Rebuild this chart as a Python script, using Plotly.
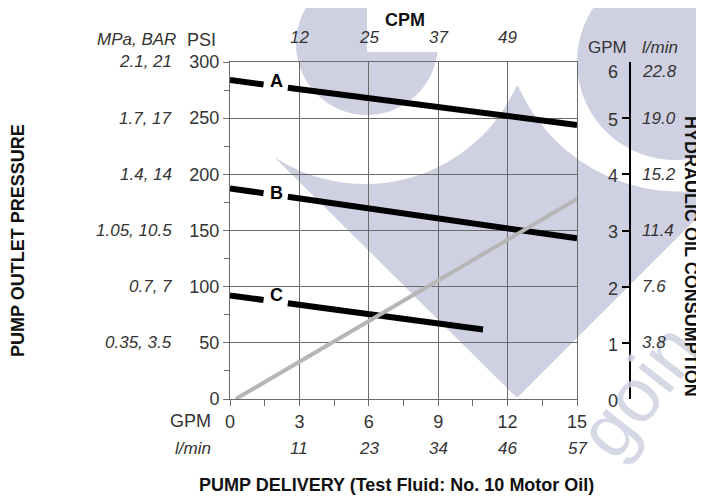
import math
import plotly.graph_objects as go

# page is drawn with an 8px body margin, so design coordinates are shifted
OX, OY = 8, 8
W, H = 696, 488

# ---------------- data ----------------
gpm_ticks = [0, 3, 6, 9, 12, 15]
lmin_pos = [3, 6, 9, 12, 15]
lmin_labels = ["11", "23", "34", "46", "57"]
cpm_pos = [3, 6, 9, 12]
cpm_labels = ["12", "25", "37", "49"]
psi_ticks = [0, 50, 100, 150, 200, 250, 300]
mpa_pos = [50, 100, 150, 200, 250, 300]
mpa_bar_labels = ["0.35, 3.5", "0.7, 7", "1.05, 10.5", "1.4, 14", "1.7, 17", "2.1, 21"]
cons_gpm_ticks = [0, 1, 2, 3, 4, 5, 6]
cons_gpm_labels = ["0", "1", "2", "3", "4", "5", "6"]
cons_lmin_pos = [1, 2, 3, 4, 5, 6]
cons_lmin_labels = ["3.8", "7.6", "11.4", "15.2", "19.0", "22.8"]

curve_A_x = [0, 1.45, None, 2.5, 15]
curve_A_y = [284, 280, None, 277, 244]
curve_B_x = [0, 1.45, None, 2.5, 15]
curve_B_y = [187.5, 183.2, None, 180.1, 143]
curve_C_x = [0, 1.45, None, 2.5, 10.94]
curve_C_y = [92.2, 88.2, None, 85.3, 61.9]
oil_x = [0.25, 15]
oil_y = [0, 3.56]

curve_names = ["A", "B", "C"]
curve_label_x = [2.0, 2.0, 2.0]
curve_label_y = [283, 183.5, 92.5]

FONT = "Liberation Sans, Arial, Helvetica, sans-serif"
TXT = "#333333"
DARK = "#111111"
GRID = "#6a6a6a"
LAV = "rgb(207,209,226)"


def px(x):
    return (x - OX) / W


def py(y):
    return 1 - (y - OY) / H


fig = go.Figure()
for xs, ys, nm in [(curve_A_x, curve_A_y, "A"), (curve_B_x, curve_B_y, "B"),
                   (curve_C_x, curve_C_y, "C")]:
    fig.add_trace(go.Scatter(x=xs, y=ys, mode="lines", name=nm,
                             line=dict(color="#000000", width=6),
                             connectgaps=False, hoverinfo="skip"))
fig.add_trace(go.Scatter(x=oil_x, y=oil_y, mode="lines", yaxis="y2",
                         line=dict(color="#b6b6b6", width=4), hoverinfo="skip"))

# ---------------- watermark (decorative background logo) ----------------
shapes = []


def poly(points, color, layer="below", line=None):
    d = "M " + " L ".join(f"{px(a):.5f},{py(b):.5f}" for a, b in points) + " Z"
    return dict(type="path", xref="paper", yref="paper", layer=layer,
                path=d, fillcolor=color, line=line or dict(width=0))


def arc_bottom(cx, cy, r, x):
    if abs(x - cx) >= r:
        return None
    return cy + math.sqrt(r * r - (x - cx) ** 2)


# V shaped region, its top cut by two (white) rings
top_pts, bot_pts = [], []
x = 240.0
while x <= 712.0:
    cands = [v for v in (arc_bottom(365, 18, 166, x), arc_bottom(679.5, 15.5, 176, x))
             if v is not None]
    ytop = max(cands) if cands else -10
    ybot = 123 + (x - 240) * (275 / 277) if x <= 517 else 398 - (x - 517)
    if ytop < ybot:
        top_pts.append((x, ytop))
        bot_pts.append((x, ybot))
    x += 2.0
shapes.append(poly(top_pts + bot_pts[::-1], LAV))

# left disc with a rectangular notch at its upper right
cx, cy, r = 367, 44, 71
a0 = math.degrees(math.asin((52 - cy) / r))
disc_pts = [(cx, 52)]
for k in range(61):
    a = a0 + (270 - a0) * k / 60
    disc_pts.append((cx + r * math.cos(math.radians(a)), cy + r * math.sin(math.radians(a))))
disc_pts.append((cx, 2))
shapes.append(poly(disc_pts, LAV))
shapes.append(poly(disc_pts, "rgba(0,0,0,0)", layer="above",
                   line=dict(color="rgba(0,0,0,0)", width=0)))

# right disc
shapes.append(poly([(675 + 98 * math.cos(math.radians(a)),
                     62 + 98 * math.sin(math.radians(a))) for a in range(0, 360, 4)], LAV))

# ---------------- annotations ----------------
ann = []


def t(text, x, y, xref="paper", yref="paper", size=18, bold=False, italic=False,
      xanchor="center", yanchor="middle", color=TXT, angle=0, yshift=0):
    if bold:
        text = f"<b>{text}</b>"
    if italic:
        text = f"<i>{text}</i>"
    ann.append(dict(text=text, x=x, y=y, xref=xref, yref=yref, showarrow=False,
                    xanchor=xanchor, yanchor=yanchor, textangle=angle, yshift=yshift,
                    font=dict(family=FONT, size=size, color=color)))


# watermark text first so everything else draws over it
t("goin", px(638), py(390), size=76, angle=-52, color="rgba(207,209,226,0.85)")

# top CPM
t("CPM", px(405), py(20), bold=True, size=18, color=DARK)
for xv, lab in zip(cpm_pos, cpm_labels):
    t(lab, xv, py(37), xref="x", italic=True, size=17)
# left headers
t("MPa, BAR", px(178), py(40), italic=True, xanchor="right", size=17)
t("PSI", px(218), py(40), xanchor="right")
for yv, lab in zip(mpa_pos, mpa_bar_labels):
    t(lab, px(174), yv, yref="y", italic=True, xanchor="right", size=17)
# bottom
t("GPM", px(213), py(421), xanchor="right")
t("l/min", px(213), py(448), italic=True, xanchor="right", size=17)
for xv, lab in zip(lmin_pos, lmin_labels):
    t(lab, xv, py(448), xref="x", italic=True, size=17)
t("PUMP DELIVERY (Test Fluid: No. 10 Motor Oil)", px(396), py(485), bold=True,
  size=18, color=DARK)
# left title
t("PUMP OUTLET PRESSURE", px(18), py(241), bold=True, size=18, angle=-90,
  color=DARK)
# right axis
t("GPM", px(607), py(48), size=17)
t("l/min", px(660), py(48), italic=True, size=17)
for yv, lab in zip(cons_gpm_ticks, cons_gpm_labels):
    t(lab, px(613), yv, yref="y2", yshift=(-10 if yv == 6 else -2))
for yv, lab in zip(cons_lmin_pos, cons_lmin_labels):
    t(lab, px(640), yv, yref="y2", italic=True, xanchor="left", size=17,
      yshift=(-10 if yv == 6 else 0))
t("HYDRAULIC OIL CONSUMPTION", px(691), py(256), bold=True, size=18, angle=90,
  color=DARK)
# curve labels
for nm, xv, yv in zip(curve_names, curve_label_x, curve_label_y):
    t(nm, xv, yv, xref="x", yref="y", bold=True, size=18, color="#000000")

axis_common = dict(showgrid=True, gridcolor=GRID, gridwidth=1, showline=True,
                   linecolor=GRID, linewidth=1, mirror=True, ticks="outside",
                   ticklen=6, tickcolor=GRID, zeroline=False, automargin=False,
                   tickfont=dict(family=FONT, size=18, color=TXT))

fig.update_layout(
    width=W, height=H,
    margin=dict(l=0, r=0, t=0, b=0, pad=0, autoexpand=False),
    paper_bgcolor="white", plot_bgcolor="rgba(0,0,0,0)",
    showlegend=False,
    xaxis=dict(domain=[px(230), px(577)], range=[0, 15], tickvals=gpm_ticks,
               minor=dict(tick0=0, dtick=1.5, ticks="outside", ticklen=6,
                          tickcolor=GRID, showgrid=False),
               **axis_common),
    yaxis=dict(domain=[py(399), py(62)], range=[0, 300], tickvals=psi_ticks,
               minor=dict(tick0=0, dtick=25, ticks="outside", ticklen=5,
                          tickcolor=GRID, showgrid=False),
               **axis_common),
    yaxis2=dict(overlaying="y", anchor="free", position=px(630), side="right",
                range=[0, 6], tickvals=cons_gpm_ticks, showticklabels=False,
                ticks="inside", ticklen=7, tickcolor="#000000", tickwidth=1.5,
                showline=True, linecolor="#000000", linewidth=2, showgrid=False,
                zeroline=False, automargin=False),
    shapes=shapes,
    annotations=ann,
)

fig.write_html("out.html")
